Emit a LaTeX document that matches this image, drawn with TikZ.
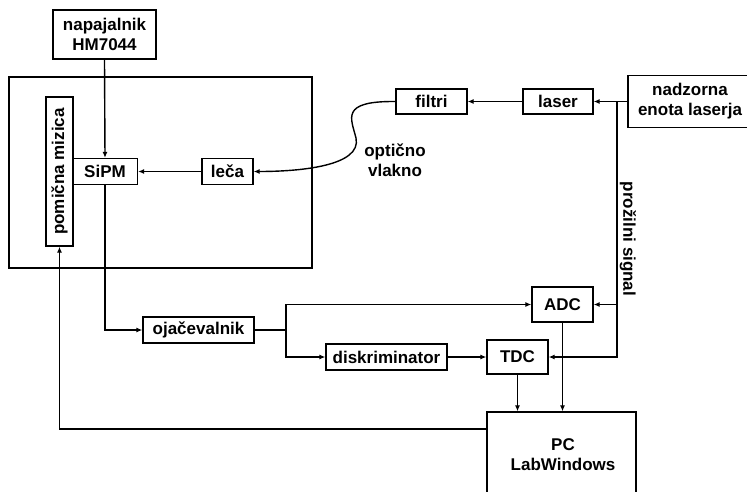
\documentclass[tikz,border=0pt]{standalone}
\usepackage{fontspec}
\setmainfont{Liberation Sans}
\usetikzlibrary{arrows.meta}

\begin{document}
\begin{tikzpicture}[x=1pt,y=-1pt,
  blok/.style={draw=black,line width=1.3pt,inner sep=0pt,align=center,font=\fontsize{17}{20}\selectfont\bfseries},
  napis/.style={inner sep=0pt,align=center,font=\fontsize{17}{20}\selectfont\bfseries},
  vod/.style={draw=black,line width=1.4pt},
  arr/.style={vod,-{Latex[length=6pt,width=5pt]}}]
  \useasboundingbox (0,0) rectangle (747,491);
  \node[blok,minimum width=303pt,minimum height=191pt] (postavitev) at (160.5,172.5) {};
  \node[blok,minimum width=103pt,minimum height=49pt] (napajalnik) at (104.5,34.5) {napajalnik\\HM7044};
  \node[blok,minimum width=27pt,minimum height=149pt] (mizica) at (59.5,171.5) {};
  \node[napis,rotate=90] at (mizica.center) {pomična mizica};
  \node[blok,minimum width=65pt,minimum height=26pt] (sipm) at (105,171.5) {SiPM};
  \node[blok,minimum width=51pt,minimum height=26pt] (leca) at (227.5,171.5) {leča};
  \node[blok,minimum width=71pt,minimum height=25pt] (filtri) at (431.5,101.5) {filtri};
  \node[blok,minimum width=70pt,minimum height=25pt] (laser) at (558,101.5) {laser};
  \node[blok,minimum width=124pt,minimum height=52pt] (nadzorna) at (690,101.5) {nadzorna\\enota laserja};
  \node[napis] (vlakno) at (395,160) {optično\\vlakno};
  \node[blok,minimum width=111pt,minimum height=26pt] (ojac) at (198.5,330) {ojačevalnik};
  \node[blok,minimum width=121pt,minimum height=26pt] (disk) at (386.5,357) {diskriminator};
  \node[blok,minimum width=61pt,minimum height=35pt] (adc) at (562.5,304.5) {ADC};
  \node[blok,minimum width=61pt,minimum height=34pt] (tdc) at (517.5,357) {TDC};
  \node[blok,minimum width=149pt,minimum height=100pt] (pc) at (561.5,462) {};
  \node[napis] at (563,455) {PC\\LabWindows};
  \node[napis,rotate=-90] (prozilni) at (628,239) {prožilni signal};
  \coordinate (razcep) at (617,101.5);
  \coordinate (veja) at (286,330);
  \coordinate (vrnitev) at (487,429);
  \draw[arr] (napajalnik.south) -- (sipm.north);
  \draw[arr] (leca.west) -- (sipm.east);
  \draw[arr] (filtri.west) .. controls (340,101) and (351,118) .. (356,138) .. controls (362,166) and (300,171.5) .. (leca.east);
  \draw[arr] (laser.west) -- (filtri.east);
  \draw[arr] (nadzorna.west) -- (laser.east);
  \draw[arr] (razcep) |- (adc.east);
  \draw[arr] (razcep) |- (tdc.east);
  \draw[arr] (sipm.south) |- (ojac.west);
  \draw[vod] (ojac.east) -- (veja);
  \draw[arr] (veja) |- (adc.west);
  \draw[arr] (veja) |- (disk.west);
  \draw[arr] (disk.east) -- (tdc.west);
  \draw[arr] (tdc.south) -- (tdc.south |- pc.north);
  \draw[arr] (adc.south) -- (adc.south |- pc.north);
  \draw[arr] (vrnitev) -| (mizica.south);
\end{tikzpicture}
\end{document}
